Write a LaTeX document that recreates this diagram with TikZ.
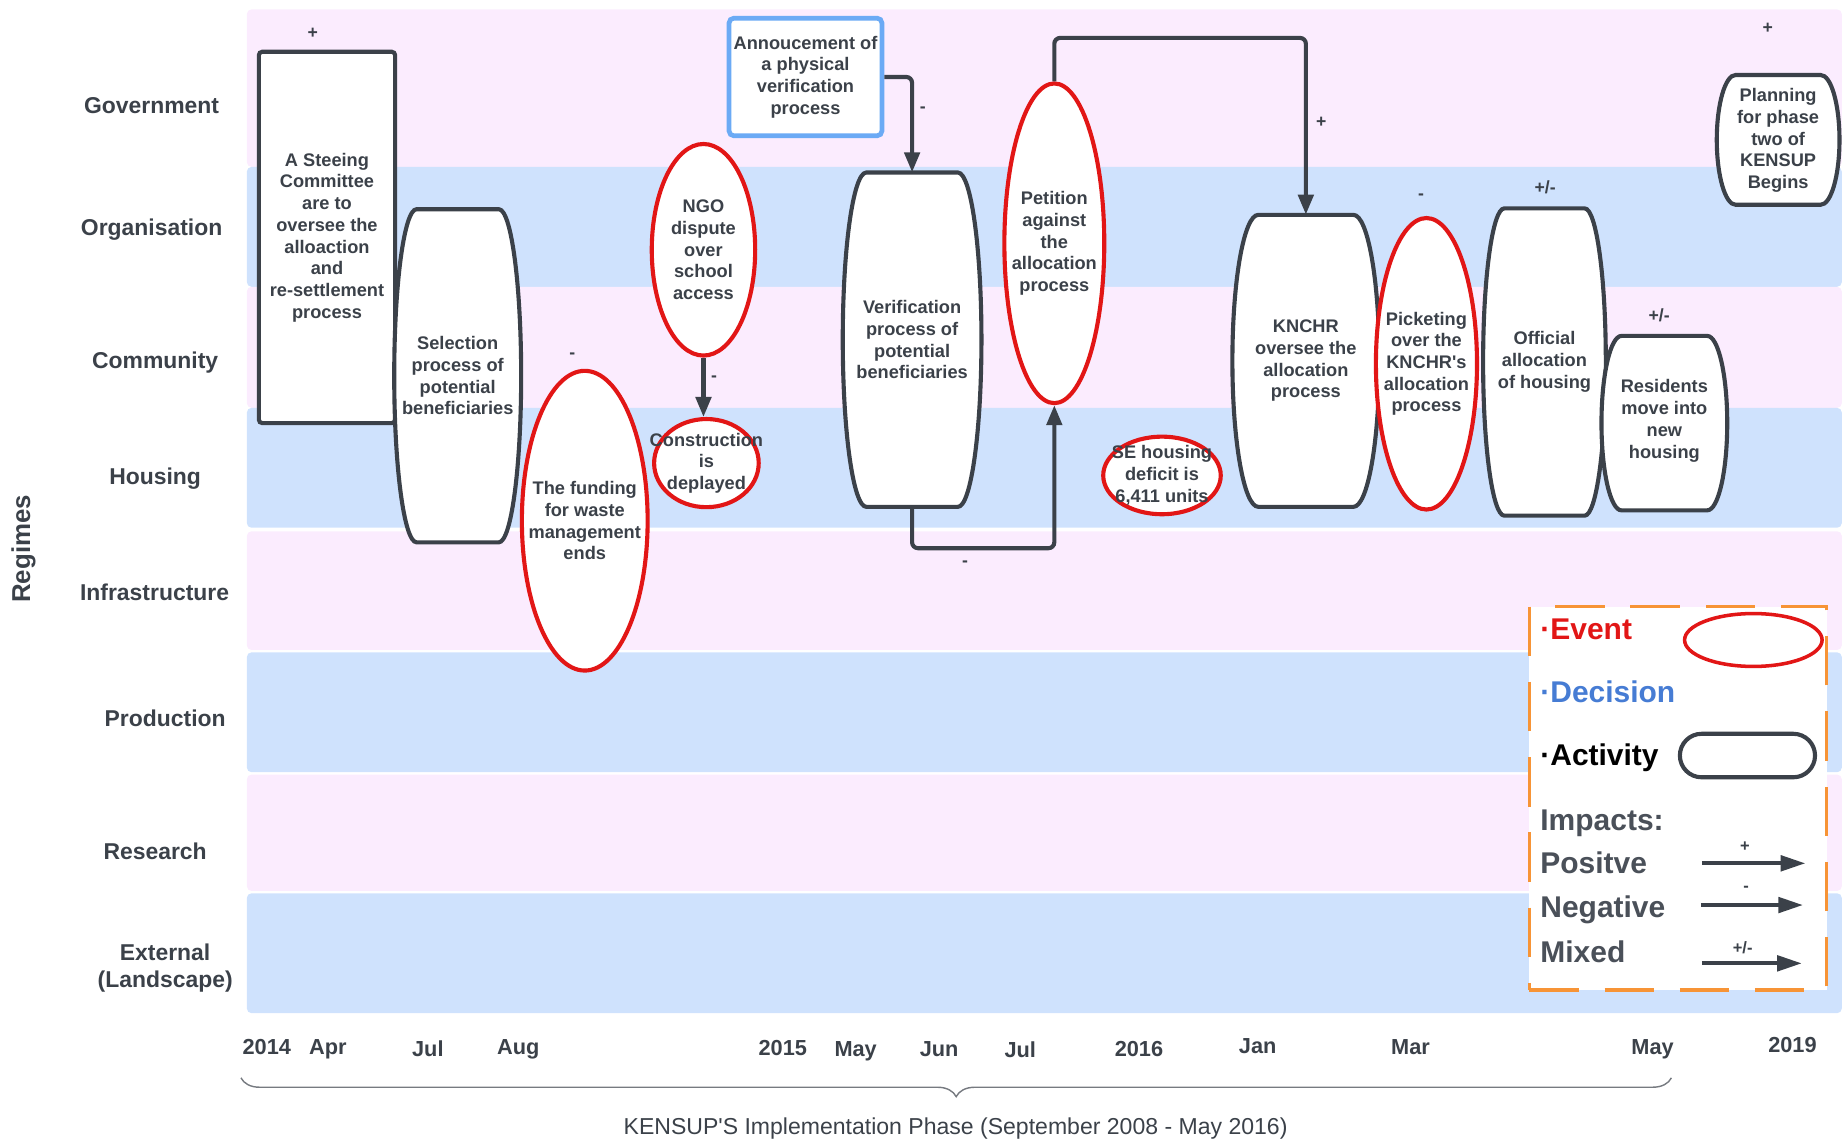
\documentclass[tikz,border=0pt]{standalone}
\usepackage{fontspec}
\setmainfont{Liberation Sans}
\usepackage{xcolor}
\usepackage{tikz}
\usetikzlibrary{arrows.meta, positioning, shapes.geometric, decorations.pathreplacing}

\definecolor{ink}{RGB}{59,65,73}
\definecolor{bandpink}{RGB}{251,236,254}
\definecolor{bandblue}{RGB}{207,226,253}
\definecolor{evred}{RGB}{226,22,22}
\definecolor{decblue}{RGB}{107,170,245}
\definecolor{declabel}{RGB}{70,124,212}
\definecolor{legorange}{RGB}{247,148,54}
\definecolor{leggray}{RGB}{74,80,89}

% activity outline: x, y, half width, half height, bulge of the sides
\newcommand{\barrel}[5]{%
  \filldraw[actline] ({#1-#3+#5},{#2-#4}) -- ({#1+#3-#5},{#2-#4})
    arc[start angle=90, end angle=-90, x radius=#5pt, y radius=#4pt]
    -- ({#1-#3+#5},{#2+#4})
    arc[start angle=270, end angle=90, x radius=#5pt, y radius=#4pt] -- cycle;}

\begin{document}
\begin{tikzpicture}[
  x=1pt, y=-1pt,
  band/.style={rounded corners=4pt},
  regime/.style={font=\fontsize{19.5}{23}\selectfont\bfseries, text=ink, align=center},
  txt/.style={font=\fontsize{15.5}{18.5}\selectfont\bfseries, text=ink, align=center},
  actline/.style={draw=ink, fill=white, line width=3.5pt},
  act/.style={txt, inner sep=0pt},
  evt/.style={ellipse, draw=evred, line width=3.5pt, fill=white, inner sep=0pt},
  dec/.style={draw=decblue, line width=4pt, rounded corners=4pt, fill=white, inner sep=0pt},
  imp/.style={-{Triangle[length=17pt,width=13pt]}, line width=3.5pt, draw=ink, rounded corners=5pt},
  sgn/.style={font=\fontsize{15}{17}\selectfont\bfseries, text=ink},
  datelbl/.style={font=\fontsize{18.5}{21}\selectfont\bfseries, text=ink, anchor=base},
  leg/.style={font=\fontsize{25.5}{29}\selectfont\bfseries, anchor=base west}
]
\useasboundingbox (0,0) rectangle (1568,973);

% regime bands
\fill[bandpink, band] (210,8) rectangle (1567,142);
\fill[bandblue, band] (210,142) rectangle (1567,244);
\fill[bandpink, band] (210,244) rectangle (1567,347);
\fill[bandblue, band] (210,347) rectangle (1567,449);
\fill[bandpink, band] (210,452) rectangle (1567,553);
\fill[bandblue, band] (210,555) rectangle (1567,657);
\fill[bandpink, band] (210,659) rectangle (1567,758);
\fill[bandblue, band] (210,760) rectangle (1567,862);

% regime labels
\node[regime, text height=14pt, text depth=0pt] (gov) at (129,89.5) {Government};
\node[regime, text height=14pt, text depth=0pt] (org) at (129,193.5) {Organisation};
\node[regime, text height=14pt, text depth=0pt] (comm) at (132,306.3) {Community};
\node[regime, text height=14pt, text depth=0pt] (hous) at (132,405.6) {Housing};
\node[regime, text height=14pt, text depth=0pt] (infra) at (131.5,504) {Infrastructure};
\node[regime, text height=14pt, text depth=0pt] (prod) at (140.5,611) {Production};
\node[regime, text height=14pt, text depth=0pt] (res) at (132,724) {Research};
\node[regime] (ext) at (140.5,824) {External\\(Landscape)};
\node[regime, font=\fontsize{22}{26}\selectfont\bfseries, rotate=90] (regimes) at (20,467) {Regimes};

% activities, events and decision
\node[txt, draw=ink, line width=3.5pt, fill=white, rounded corners=3pt, inner sep=0pt,
      minimum width=116pt, minimum height=316pt] (steer) at (278.2,202)
  {A Steeing\\Committee\\are to\\oversee the\\alloaction\\and\\re-settlement\\process};
\barrel{389.4}{319.7}{54}{141.7}{19}
\node[act, minimum height=283pt] (select) at (389.4,319.7) {Selection\\process of\\potential\\beneficiaries};
\node[evt, minimum width=107pt, minimum height=255pt,
      label={[txt]center:{The funding\\for waste\\management\\ends}}] (fund) at (497.5,443) {};
\node[evt, minimum width=88pt, minimum height=180pt,
      label={[txt]center:{NGO\\dispute\\over\\school\\access}}] (ngo) at (598.5,212.5) {};
\node[evt, minimum width=89pt, minimum height=75pt,
      label={[txt]center:{Construction\\is\\deplayed}}] (constr) at (601,394) {};
\node[dec, minimum width=130pt, minimum height=100pt,
      label={[txt]center:{Annoucement of\\a physical\\verification\\process}}] (ann) at (685.3,65.5) {};
\barrel{776}{289}{59}{142.2}{20}
\node[act, minimum height=284.4pt] (verif) at (776,289) {Verification\\process of\\potential\\beneficiaries};
\node[evt, minimum width=85pt, minimum height=272pt,
      label={[txt]center:{Petition\\against\\the\\allocation\\process}}] (pet) at (897,207) {};
\node[evt, minimum width=100pt, minimum height=66pt,
      label={[txt]center:{SE housing\\deficit is\\6,411 units}}] (deficit) at (988.6,404.5) {};
\barrel{1111}{307}{62.5}{124.2}{22}
\node[act, minimum height=248.4pt] (knchr) at (1111,307) {KNCHR\\oversee the\\allocation\\process};
\node[evt, minimum width=86pt, minimum height=248pt,
      label={[txt]center:{Picketing\\over the\\KNCHR\textquotesingle s\\allocation\\process}}] (picket) at (1213.6,309.5) {};
\barrel{1314}{308}{52.2}{130.7}{18}
\node[act, minimum height=261.4pt] (official) at (1314,308) {Official\\allocation\\of housing};
\barrel{1416}{360}{53.5}{74.2}{17}
\node[act, minimum height=148.4pt] (resid) at (1416,358) {Residents\\move into\\new\\housing};
\barrel{1512.8}{119}{52.2}{55.2}{16}
\node[act, minimum height=110.4pt] (plan) at (1512.8,119.5) {Planning\\for phase\\two of\\KENSUP\\Begins};

% impacts
\draw[imp] (ann.east) -| (verif.north);
\draw[imp] (ngo.south) -- (ngo.south |- constr.north);
\draw[imp] (verif.south) -- ++(0,35) -| (pet.south);
\draw[imp] (pet.north) -- ++(0,-37) -| (knchr.north);

\node[sgn] (sgsteer) at (266,28) {+};
\node[sgn] (sgann) at (785,93) {-};
\node[sgn] (sgngo) at (607.5,322) {-};
\node[sgn] (sgfund) at (487,303) {-};
\node[sgn] (sgverif) at (821,480) {-};
\node[sgn] (sgpet) at (1124,104) {+};
\node[sgn] (sgpicket) at (1209,167) {-};
\node[sgn] (sgofficial) at (1314.6,159.5) {+/-};
\node[sgn] (sgresid) at (1411.6,268) {+/-};
\node[sgn] (sgplan) at (1504,24.3) {+};

% legend
\node[draw=legorange, line width=3pt, dash pattern=on 42pt off 22pt, fill=white,
      minimum width=253pt, minimum height=326pt, inner sep=0pt] (legendbox) at (1427.6,679.2) {};
\node[leg, text=evred] (lgevent) at (1307,544.5) {·Event};
\node[evt, line width=3pt, minimum width=117pt, minimum height=45pt] (lgell) at (1491.7,544.5) {};
\node[leg, text=declabel] (lgdec) at (1307,597.6) {·Decision};
\node[leg, text=black] (lgact) at (1307,651.4) {·Activity};
\barrel{1486.7}{642.8}{57.5}{18.5}{18.5}
\node[leg, text=leggray] (lgimp) at (1307,706.8) {Impacts:};
\node[leg, text=leggray] (lgpos) at (1307,743.1) {Positve};
\node[leg, text=leggray] (lgneg) at (1307,780.5) {Negative};
\node[leg, text=leggray] (lgmix) at (1307,818.8) {Mixed};

\coordinate (posA) at (1448,734.5);
\coordinate (posB) at (1536,734.5);
\coordinate (negA) at (1447,770);
\coordinate (negB) at (1534,770);
\coordinate (mixA) at (1448,819.6);
\coordinate (mixB) at (1533,819.6);
\draw[imp, -{Triangle[length=21pt,width=13pt]}] (posA) -- (posB);
\draw[imp, -{Triangle[length=21pt,width=13pt]}] (negA) -- (negB);
\draw[imp, -{Triangle[length=21pt,width=13pt]}] (mixA) -- (mixB);
\node[sgn, font=\fontsize{14}{16}\selectfont\bfseries] (lgplus) at (1484.6,720.3) {+};
\node[sgn, font=\fontsize{14}{16}\selectfont\bfseries] (lgminus) at (1485.5,756.3) {-};
\node[sgn, font=\fontsize{14}{16}\selectfont\bfseries] (lgmixed) at (1482.6,806) {+/-};

% time axis
\node[datelbl] (d2014) at (227,897.5) {2014};
\node[datelbl] (dapr) at (279,897.5) {Apr};
\node[datelbl] (djul) at (364,898.5) {Jul};
\node[datelbl] (daug) at (441,897.5) {Aug};
\node[datelbl] (d2015) at (666,898) {2015};
\node[datelbl] (dmay) at (728,899) {May};
\node[datelbl] (djun) at (799,899) {Jun};
\node[datelbl] (djul2) at (868,899.5) {Jul};
\node[datelbl] (d2016) at (969,899) {2016};
\node[datelbl] (djan) at (1070,896) {Jan};
\node[datelbl] (dmar) at (1200,897) {Mar};
\node[datelbl] (dmay2) at (1406,897.5) {May};
\node[datelbl] (d2019) at (1525,895.3) {2019};

\coordinate (braceR) at (1422,917);
\coordinate (braceL) at (205,917);
\draw[decorate, decoration={brace, amplitude=16pt}, draw=ink!70, line width=1.2pt] (braceR) -- (braceL);
\node[font=\fontsize{19.6}{22}\selectfont, text=ink] (phase) at (813,960)
  {KENSUP\textquotesingle S Implementation Phase (September 2008 - May 2016)};
\end{tikzpicture}
\end{document}
